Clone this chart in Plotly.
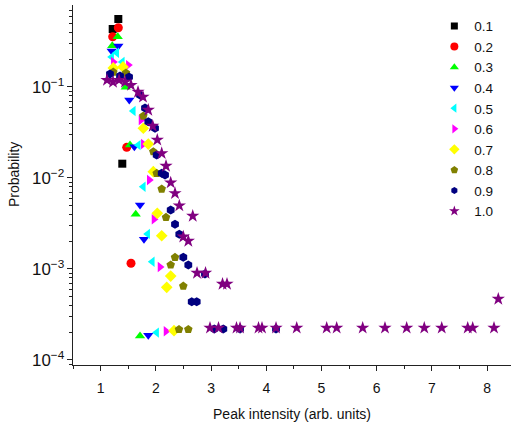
import plotly.graph_objects as go

labels = ["0.1", "0.2", "0.3", "0.4", "0.5", "0.6", "0.7", "0.8", "0.9", "1.0"]
colors = ["#000000", "#ff0000", "#00ff00", "#0000ff", "#00ffff", "#ff00ff",
          "#ffff00", "#808000", "#000080", "#800080"]
symbols = ["square", "circle", "triangle-up", "triangle-down", "triangle-left",
           "triangle-right", "diamond", "pentagon", "hexagon", "star"]
sizes = [8, 9, 9, 9, 9, 9, 9, 9, 9, 10]
legend_sizes = [7, 8, 8, 8, 8, 8, 8, 8, 7, 8]

x01 = [1.217, 1.319, 1.391]
y01 = [0.434, 0.559, 0.01436]

x02 = [1.217, 1.319, 1.471, 1.549]
y02 = [0.357, 0.448, 0.0217, 0.001155]

x03 = [1.210, 1.308, 1.453, 1.531, 1.634, 1.712]
y03 = [0.284, 0.357, 0.0993, 0.0230, 0.00399, 0.000184]

x04 = [1.199, 1.319, 1.518, 1.609, 1.712, 1.784, 1.862]
y04 = [0.249, 0.282, 0.0720, 0.0221, 0.00505, 0.00212, 0.000187]

x05 = [1.199, 1.290, 1.391, 1.591, 1.681, 1.772, 1.851, 1.935, 2.013]
y05 = [0.214, 0.238, 0.188, 0.0545, 0.0230, 0.00802, 0.00243, 0.00120, 0.000200]

x06 = [1.228, 1.500, 1.730, 1.772, 1.880, 1.966, 2.074, 2.183]
y06 = [0.188, 0.174, 0.0434, 0.0236, 0.00951, 0.00352, 0.00105, 0.000207]

x07 = [1.228, 1.404, 1.772, 1.862, 1.953, 2.025, 2.105, 2.268, 2.196, 2.328]
y07 = [0.162, 0.166, 0.0352, 0.0236, 0.01172, 0.00409, 0.00232, 0.000837,
       0.000629, 0.000210]

x08 = [1.228, 1.458, 1.772, 1.953, 2.014, 2.105, 2.183, 2.346, 2.268, 2.496,
       2.418, 2.587]
y08 = [0.146, 0.1425, 0.0480, 0.01945, 0.01126, 0.00757, 0.00370, 0.001345,
       0.001107, 0.000650, 0.000217, 0.000217]

x09 = [1.168, 1.350, 1.513, 1.712, 1.803, 1.862, 1.984, 2.014, 2.105, 2.165,
       2.268, 2.346, 2.424, 2.496, 2.587, 2.649, 2.739, 2.889, 3.058, 3.221,
       3.524, 4.176]
y09 = [0.139, 0.132, 0.1288, 0.0817, 0.0588, 0.0416, 0.0352, 0.0179, 0.01126,
       0.01079, 0.00445, 0.00310, 0.00241, 0.001345, 0.001107, 0.000437,
       0.000437, 0.000881, 0.000219, 0.000219, 0.000219, 0.000219]

x10 = [1.114, 1.223, 1.332, 1.440, 1.549, 1.676, 1.766, 1.862, 1.942, 2.025,
       2.105, 2.183, 2.268, 2.346, 2.424, 2.667, 2.496, 2.587, 2.745, 2.899,
       3.207, 3.288, 2.980, 3.134, 3.460, 3.524, 3.859, 3.922, 4.176, 4.551,
       5.094, 5.275, 5.746, 6.150, 6.543, 6.862, 7.178, 7.649, 7.739, 8.125,
       8.203]
y10 = [0.119, 0.1135, 0.119, 0.1135, 0.105, 0.0881, 0.0777, 0.0559, 0.0373,
       0.0262, 0.01867, 0.01355, 0.00888, 0.00679, 0.00496, 0.00382, 0.00226,
       0.00203, 0.000904, 0.000904, 0.000684, 0.000684, 0.000225, 0.000225,
       0.000225, 0.000225, 0.000225, 0.000225, 0.000225, 0.000225, 0.000225,
       0.000225, 0.000225, 0.000225, 0.000225, 0.000225, 0.000225, 0.000225,
       0.000225, 0.000225, 0.000468]

xs = [x01, x02, x03, x04, x05, x06, x07, x08, x09, x10]
ys = [y01, y02, y03, y04, y05, y06, y07, y08, y09, y10]

font = "Liberation Sans, Arial, sans-serif"
fig = go.Figure()
for lab, c, s, sz, xv, yv in zip(labels, colors, symbols, sizes, xs, ys):
    fig.add_trace(go.Scatter(x=xv, y=yv, mode="markers", name=lab,
                             showlegend=False,
                             marker=dict(color=c, symbol=s, size=sz,
                                         line=dict(width=0))))
# legend entries with smaller symbols
for lab, c, s, lsz in zip(labels, colors, symbols, legend_sizes):
    fig.add_trace(go.Scatter(x=[None], y=[None], mode="markers", name=lab,
                             showlegend=True,
                             marker=dict(color=c, symbol=s, size=lsz,
                                         line=dict(width=0))))

fig.update_layout(
    width=512, height=429,
    margin=dict(l=73, r=1, t=5, b=64),
    paper_bgcolor="white", plot_bgcolor="white",
    font=dict(family=font, size=14, color="#111111"),
    showlegend=True,
    legend=dict(x=0.825, y=0.984, xanchor="left", yanchor="top",
                bgcolor="rgba(0,0,0,0)", borderwidth=0,
                font=dict(size=13.5), itemsizing="trace"),
    xaxis=dict(range=[0.498, 8.433], dtick=1, tick0=0, showgrid=False,
               zeroline=False, showline=True, linecolor="#222222", linewidth=1,
               ticks="outside", ticklen=5, tickcolor="#222222", automargin=False,
               ticklabelstandoff=5,
               minor=dict(ticks="outside", ticklen=3, dtick=0.5, tick0=0,
                          tickcolor="#222222"),
               title=dict(text="Peak intensity (arb. units)", standoff=14,
                          font=dict(size=14))),
    yaxis=dict(type="log", range=[-4.055, -0.099], dtick=1,
               exponentformat="power", showgrid=False, zeroline=False,
               showline=True, linecolor="#222222", linewidth=1, automargin=False,
               ticks="outside", ticklen=5, tickcolor="#222222",
               tickfont=dict(size=13.5),
               minor=dict(ticks="outside", ticklen=3, dtick="D1",
                          tickcolor="#222222")),
    annotations=[dict(text="Probability", textangle=-90, xref="paper",
                      yref="paper", x=-0.135, y=0.53, showarrow=False,
                      font=dict(size=14), xanchor="center", yanchor="middle")],
)

fig.write_html("out.html", config={"displayModeBar": False},
               post_script="document.body.style.margin='0';"
                           "document.body.style.padding='0';")
